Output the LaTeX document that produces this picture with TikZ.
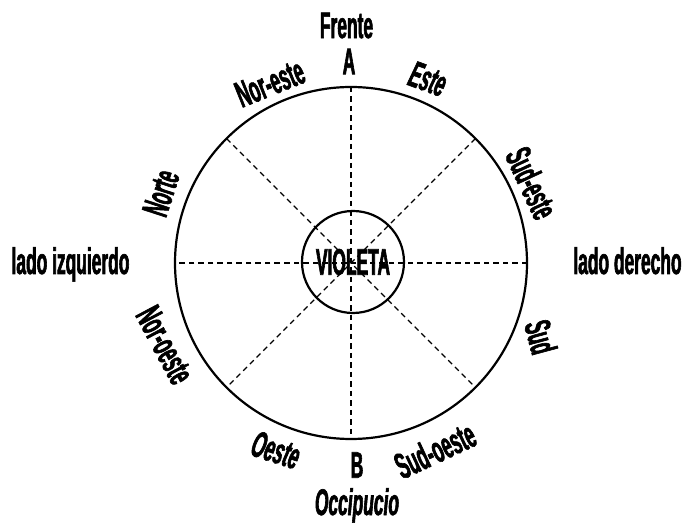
\documentclass[tikz,border=0pt]{standalone}
\usepackage{fontspec}
\newfontfamily\condfont[FakeStretch=0.47,FakeBold=1.6]{Liberation Sans}
\usetikzlibrary{positioning}

\begin{document}
\begin{tikzpicture}[x=1pt,y=1pt]
\tikzset{ring/.style={circle,draw,line width=2.2pt,inner sep=0pt,outer sep=0pt},
  lbl/.style={font=\condfont\bfseries\fontsize{37}{39}\selectfont,inner sep=0pt},
  ilbl/.style={lbl,font=\condfont\bfseries\itshape\fontsize{37}{39}\selectfont},
  ray/.style={line width=1.1pt,dash pattern=on 5.5pt off 4pt}}
\useasboundingbox (-351,-261) rectangle (334,263);

\node[ring,minimum size=352pt] (cab) at (0,0) {};
\node[ring,minimum size=102pt,lbl] (vio) at (2,1) {VIOLETA};

% rays of the head
\foreach \a in {0,45,90,135} {
  \pgfmathtruncatemacro{\b}{\a+180}
  \draw[ray] (cab.\a) -- (cab.\b);
}

% top and bottom
\node[lbl] (fr) at (-4.5,237.5) {Frente};
\node[lbl] (pa) at (-2,201.5) {A};
\node[lbl] (pb) at (6,-202) {B};
\node[ilbl,anchor=base] (oc) at (6,-252) {Occipucio};

% sides
\node[lbl,anchor=base] (li) at (-280.5,-11) {lado izquierdo};
\node[lbl,anchor=base] (ld) at (276.5,-11) {lado derecho};

% around the ring
\node[lbl,rotate=22] (ne) at (-81,180) {Nor-este};
\node[ilbl,rotate=-20] (es) at (77,184) {Este};
\node[lbl,rotate=72] (no) at (-190,70) {Norte};
\node[lbl,rotate=-62] (nw) at (-186,-82) {Nor-oeste};
\node[lbl,rotate=-65] (se) at (181,80) {Sud-este};
\node[lbl,rotate=-75] (su) at (190,-74) {Sud};
\node[ilbl,rotate=-18] (oe) at (-75,-187) {Oeste};
\node[lbl,rotate=25] (sw) at (84,-187) {Sud-oeste};
\end{tikzpicture}
\end{document}
